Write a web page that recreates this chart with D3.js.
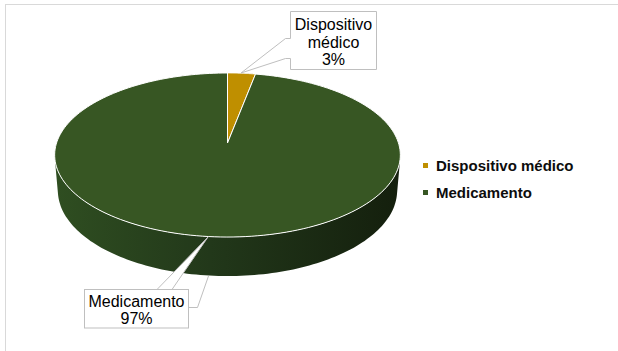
<!DOCTYPE html>
<html><head><meta charset="utf-8">
<script src="https://cdn.jsdelivr.net/npm/d3@7"></script>
<style>html,body{margin:0;padding:0;background:#fff;}svg{display:block;}</style>
</head><body>
<script>
// ---- data ----
const categories = ["Dispositivo médico", "Medicamento"];
const values = [3, 97];
const percentLabels = ["3%", "97%"];
const colors = ["#BF8F00", "#375623"];

const W = 618, H = 351;
const svg = d3.select("body").append("svg").attr("width", W).attr("height", H);

// chart border
svg.append("rect").attr("x", 5.5).attr("y", 4.5).attr("width", 640).attr("height", 400)
  .attr("fill", "#fff").attr("stroke", "#d9d9d9").attr("stroke-width", 1);

// perspective projection for 3D pie
const cx = 227.5, cy = 143, f = 1031, Dist = 6.03, alpha = 28 * Math.PI / 180, depth = 0.237;
const sa = Math.sin(alpha), ca = Math.cos(alpha);
function proj(theta, y) {
  const X = Math.sin(theta), Z = Math.cos(theta), Y = y;
  const fw = Dist + Z * ca - Y * sa;
  return [cx + f * X / fw, cy - f * (Y * ca + Z * sa) / fw];
}
const apex = [cx, cy];

const pie = d3.pie().sort(null).value(d => d)(values);

// gradient for side
const defs = svg.append("defs");
const grad = defs.append("linearGradient").attr("id", "side").attr("gradientUnits", "userSpaceOnUse")
  .attr("x1", 55).attr("x2", 400).attr("y1", 0).attr("y2", 0);
grad.append("stop").attr("offset", "0%").attr("stop-color", "#31532a".replace("31532a","30502a"));
grad.append("stop").attr("offset", "0%").attr("stop-color", "#2f4e21");
grad.append("stop").attr("offset", "45%").attr("stop-color", "#22381a");
grad.append("stop").attr("offset", "100%").attr("stop-color", "#141f0d");

// visible range of side
const cutoff = Math.acos(-1 / (Dist * ca));
const visA = cutoff, visB = 2 * Math.PI - cutoff;

function samples(a0, a1, n) {
  const arr = [];
  for (let i = 0; i <= n; i++) arr.push(a0 + (a1 - a0) * i / n);
  return arr;
}

// side faces
pie.forEach((p, i) => {
  const a0 = Math.max(p.startAngle, visA), a1 = Math.min(p.endAngle, visB);
  if (a1 <= a0) return;
  const top = samples(a0, a1, 120).map(t => proj(t, 0));
  const bot = samples(a0, a1, 120).map(t => proj(t, -depth)).reverse();
  const pts = top.concat(bot);
  svg.append("path")
    .attr("d", "M" + pts.map(q => q.join(",")).join("L") + "Z")
    .attr("fill", i === 1 ? "url(#side)" : d3.color(colors[i]).darker(1.2))
    .attr("stroke", "none");
});

// top faces
pie.forEach((p, i) => {
  const rim = samples(p.startAngle, p.endAngle, 200).map(t => proj(t, 0));
  svg.append("path")
    .attr("d", "M" + apex.join(",") + "L" + rim.map(q => q.join(",")).join("L") + "Z")
    .attr("fill", colors[i]).attr("stroke", "#ffffff").attr("stroke-width", 1)
    .attr("stroke-linejoin", "round");
});

// callouts
const calloutStroke = "#bfbfbf";
const font = "'Liberation Sans', Arial, sans-serif";

// top label (Dispositivo médico)
svg.append("path")
  .attr("d", "M290.5,11.5 H376.5 V69.5 H290.5 V58.5 H285.5 L241,73 L285.5,38.5 H290.5 Z")
  .attr("fill", "#fff").attr("stroke", calloutStroke).attr("stroke-width", 1);
const t1 = svg.append("text").attr("font-family", font).attr("font-size", 16).attr("fill", "#000")
  .attr("text-anchor", "middle");
t1.append("tspan").attr("x", 333.5).attr("y", 30).text("Dispositivo");
t1.append("tspan").attr("x", 333.5).attr("y", 47.5).text("médico");
t1.append("tspan").attr("x", 333.5).attr("y", 64.5).text(percentLabels[0]);

// bottom label (Medicamento)
svg.append("path")
  .attr("d", "M208,237 L157,289.5 L172,289.5 Z")
  .attr("fill", "#fff").attr("stroke", calloutStroke).attr("stroke-width", 1);
svg.append("path")
  .attr("d", "M208.5,276 L197.5,307.5 H189")
  .attr("fill", "none").attr("stroke", calloutStroke).attr("stroke-width", 1);
svg.append("rect").attr("x", 84.5).attr("y", 289.5).attr("width", 104).attr("height", 38.5)
  .attr("fill", "#fff").attr("stroke", calloutStroke).attr("stroke-width", 1);
const t2 = svg.append("text").attr("font-family", font).attr("font-size", 16).attr("fill", "#000")
  .attr("text-anchor", "middle");
t2.append("tspan").attr("x", 136.5).attr("y", 307.3).text(categories[1]);
t2.append("tspan").attr("x", 136.5).attr("y", 324).text(percentLabels[1]);

// legend
const legendY = [163, 190];
categories.forEach((c, i) => {
  svg.append("rect").attr("x", 423).attr("y", legendY[i]).attr("width", 5).attr("height", 5)
    .attr("fill", colors[i]);
  svg.append("text").attr("x", 436).attr("y", legendY[i] + 7.7)
    .attr("font-family", font).attr("font-size", 15).attr("font-weight", "bold")
    .attr("fill", "#0d0d0d").text(c);
});
</script>
</body></html>
